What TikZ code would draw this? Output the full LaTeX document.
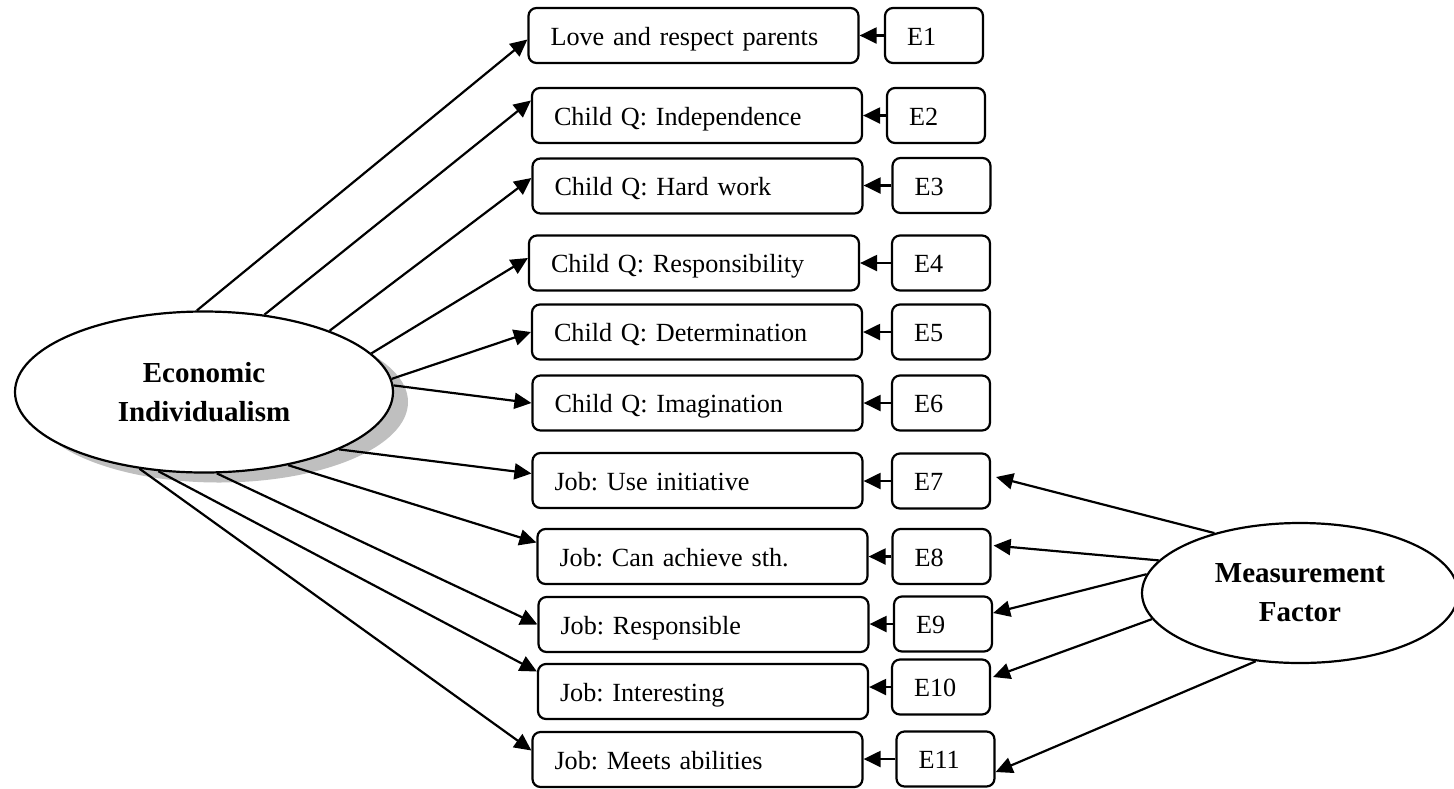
\documentclass[tikz,border=0pt]{standalone}
\usepackage{fontspec}
\setmainfont{Liberation Serif}
\usetikzlibrary{shapes.geometric,shadows,arrows.meta}
\frenchspacing

\tikzset{
  itembox/.style={draw, line width=1.1pt, rounded corners=4pt, minimum height=27.5pt,
    text width=143pt, text height=12.5pt, text depth=3pt, inner xsep=11pt, align=left,
    font=\fontsize{13.1}{16}\selectfont},
  errbox/.style={itembox, text width=27pt},
  latent/.style={ellipse, draw, line width=1.1pt, fill=white, inner sep=0pt, align=center,
    font=\fontsize{14.5}{19.5}\selectfont\bfseries},
  arr/.style={line width=1.1pt, -{Triangle[length=8.5pt,width=8pt]}}
}

\begin{document}
\begin{tikzpicture}[x=0.5pt, y=-0.5pt]
  \useasboundingbox (0,0) rectangle (1454,788);

  % Latent factors
  \node[latent, minimum width=189pt, minimum height=80.5pt,
        drop shadow={shadow xshift=7.5pt, shadow yshift=-5pt, fill=black!25, opacity=1}]
        (ei) at (204,392) {Economic\\Individualism};
  \node[latent, minimum width=158pt, minimum height=70pt] (mf) at (1300,593) {Measurement\\Factor};

  % Indicator boxes
  \node[itembox] (b1)  at (693.5,35.5)  {Love and respect parents};
  \node[itembox] (b2)  at (697,115.5)   {Child Q: Independence};
  \node[itembox] (b3)  at (697.5,186)   {Child Q: Hard work};
  \node[itembox] (b4)  at (694,263)     {Child Q: Responsibility};
  \node[itembox] (b5)  at (697,332)     {Child Q: Determination};
  \node[itembox] (b6)  at (697.5,403)   {Child Q: Imagination};
  \node[itembox] (b7)  at (697.5,480.5) {Job: Use initiative};
  \node[itembox] (b8)  at (702.5,556.5) {Job: Can achieve sth.};
  \node[itembox] (b9)  at (703.5,624.5) {Job: Responsible};
  \node[itembox] (b10) at (703,691.5)   {Job: Interesting};
  \node[itembox] (b11) at (697.5,759.5) {Job: Meets abilities};

  % Error terms
  \node[errbox] (e1)  at (934,35.5)    {E1};
  \node[errbox] (e2)  at (936,115.5)   {E2};
  \node[errbox] (e3)  at (941.5,185.5) {E3};
  \node[errbox] (e4)  at (941,263)     {E4};
  \node[errbox] (e5)  at (941,332)     {E5};
  \node[errbox] (e6)  at (941,403)     {E6};
  \node[errbox] (e7)  at (941,481)     {E7};
  \node[errbox] (e8)  at (941.5,556.5) {E8};
  \node[errbox] (e9)  at (943,624)     {E9};
  \node[errbox] (e10) at (941,687)     {E10};
  \node[errbox] (e11) at (945.5,759)   {E11};

  % Loadings on economic individualism
  \draw[arr] (ei.95)   -- ([yshift=-2pt]b1.west);
  \draw[arr] (ei.52)   -- ([yshift=7.5pt]b2.west);
  \draw[arr] (ei.26)   -- ([yshift=4pt]b3.west);
  \draw[arr] (ei.13.5) -- ([yshift=2.5pt]b4.west);
  \draw[arr] (ei.4.5)  -- (b5.west);
  \draw[arr] (ei.2)    -- (b6.west);
  \draw[arr] (ei.-23)  -- ([yshift=3.5pt]b7.west);
  \draw[arr] (ei.-41)  -- ([yshift=7pt]b8.west);
  \draw[arr] (ei.-81)  -- (b9.west);
  \draw[arr] (ei.-120) -- ([yshift=10pt]b10.west);
  \draw[arr] (ei.-130) -- ([yshift=4.5pt]b11.west);

  % Error arrows
  \foreach \i in {1,...,11}
    \draw[arr] (e\i.west) -- (e\i.west -| b\i.east);

  % Measurement factor
  \draw[arr] (mf.145.4) -- ([xshift=2.5pt,yshift=2pt]e7.east);
  \draw[arr] (mf.167.3) -- ([xshift=1pt,yshift=5.5pt]e8.east);
  \draw[arr] (mf.173)   -- ([yshift=5.5pt]e9.east);
  \draw[arr] (mf.190.5) -- ([xshift=1pt,yshift=5pt]e10.east);
  \draw[arr] (mf.237.5) -- ([yshift=-6.5pt]e11.east);
\end{tikzpicture}
\end{document}
